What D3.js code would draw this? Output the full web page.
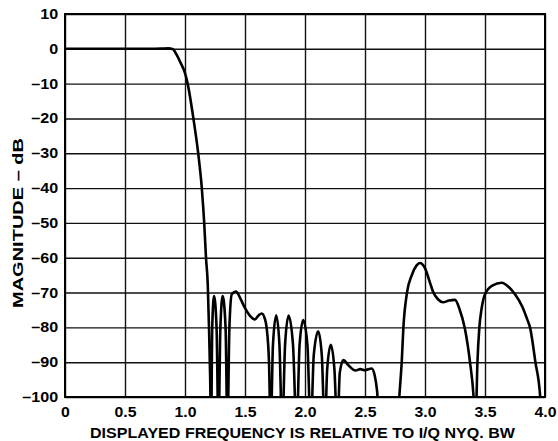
<!DOCTYPE html>
<html>
<head>
<meta charset="utf-8">
<script src="https://cdn.jsdelivr.net/npm/d3@7"></script>
<style>
  body { margin: 0; background: #fff; }
  text { font-family: "Liberation Sans", Arial, sans-serif; font-weight: bold; }
</style>
</head>
<body>
<script>
// tick values
const xTicks = [0, 0.5, 1.0, 1.5, 2.0, 2.5, 3.0, 3.5, 4.0]
const yTicks = [10, 0, -10, -20, -30, -40, -50, -60, -70, -80, -90, -100]

// filter response (nulls go below -100 and get clipped)
const freq = [
  0, 0.25, 0.5, 0.7, 0.8, 0.86, 0.9, 0.93, 0.96, 1.0, 1.022, 1.07, 1.11, 1.14, 1.16, 1.175, 1.19, 1.2, 1.21,
  1.217, 1.227, 1.242, 1.263, 1.279, 1.295, 1.314, 1.338, 1.354, 1.37, 1.39, 1.425, 1.46, 1.5, 1.54, 1.583,
  1.615, 1.64, 1.665, 1.68, 1.70, 1.714, 1.733, 1.76, 1.787, 1.81, 1.834, 1.863, 1.9, 1.93, 1.955, 1.985,
  2.02, 2.048, 2.073, 2.11, 2.14, 2.165, 2.185, 2.215, 2.245, 2.27, 2.29, 2.32, 2.36, 2.42, 2.46, 2.5,
  2.556, 2.58, 2.6, 2.625, 2.77, 2.786, 2.806, 2.82, 2.85, 2.89, 2.93, 2.958, 3.0, 3.04, 3.07, 3.11, 3.15,
  3.2, 3.25, 3.29, 3.33, 3.375, 3.405, 3.42, 3.437, 3.453, 3.47, 3.5, 3.56, 3.64, 3.7, 3.75, 3.81, 3.855,
  3.875, 3.92, 3.96, 3.975, 4.0
]
const magDb = [
  0, 0, 0, 0, 0.05, 0.15, -0.1, -1.7, -3.8, -7, -10, -20, -30, -40, -50, -60, -68, -80, -95,
  -110, -80, -71, -80, -110, -80, -71, -80, -110, -80, -70.5, -69.7, -71.6, -74.5, -76.6, -77.7,
  -76.5, -76, -77.5, -80, -90, -110, -85, -76.5, -85, -110, -85, -76.6, -85, -110, -85, -77.9,
  -85, -110, -88, -81.1, -88, -110, -92, -85, -92, -110, -93, -89.4, -90.8, -92.4, -92, -92.3,
  -91.8, -93.7, -98, -110, -110, -100, -90, -80, -70, -65, -62.2, -61.5, -63, -67, -70, -72, -72.8,
  -72.3, -72.1, -75, -80, -90, -100, -110, -90, -80, -75, -70.5, -68, -67.2, -68.5, -70.5, -74, -78,
  -80, -90, -100, -110, -110
]

const m = { left: 65, top: 14, right: 545, bottom: 397 }
const width = 558, height = 441
const w = m.right - m.left, h = m.bottom - m.top

const svg = d3.select('body').append('svg')
  .attr('width', width)
  .attr('height', height)

const x = d3.scaleLinear().domain([0, 4]).range([m.left, m.right])
const y = d3.scaleLinear().domain([-100, 10]).range([m.bottom, m.top])

const fmtY = d => d < 0 ? '\u2013' + Math.abs(d) : String(d)
const fmtX = d => d === 0 ? '0' : d.toFixed(1)

// y axis + horizontal grid
const gy = svg.append('g')
  .attr('transform', `translate(${m.left},0)`)
  .call(d3.axisLeft(y).tickValues(yTicks).tickSizeInner(-w).tickSizeOuter(0).tickPadding(6).tickFormat(fmtY))
gy.select('.domain').remove()
gy.selectAll('line').attr('stroke', '#111').attr('stroke-width', 1.4)
gy.selectAll('text')
  .attr('font-size', 14)
  .attr('fill', '#000')
  .attr('transform', 'scale(1.15,1)')

// x axis + vertical grid
const gx = svg.append('g')
  .attr('transform', `translate(0,${m.bottom})`)
  .call(d3.axisBottom(x).tickValues(xTicks).tickSizeInner(-h).tickSizeOuter(0).tickPadding(10).tickFormat(fmtX))
gx.select('.domain').remove()
gx.selectAll('line').attr('stroke', '#111').attr('stroke-width', 1.4)
gx.selectAll('text')
  .attr('font-size', 14)
  .attr('fill', '#000')
  .attr('transform', 'scale(1.13,1)')

// frame
svg.append('rect')
  .attr('x', m.left).attr('y', m.top)
  .attr('width', w).attr('height', h)
  .attr('fill', 'none')
  .attr('stroke', '#000')
  .attr('stroke-width', 2)

svg.append('clipPath').attr('id', 'plot')
  .append('rect')
  .attr('x', m.left).attr('y', m.top - 2)
  .attr('width', w).attr('height', h + 1)

const pts = freq.map((f, i) => [f, magDb[i]])

const line = d3.line()
  .x(d => x(d[0]))
  .y(d => y(d[1]))
  .curve(d3.curveMonotoneX)

svg.append('path')
  .datum(pts)
  .attr('clip-path', 'url(#plot)')
  .attr('fill', 'none')
  .attr('stroke', '#000')
  .attr('stroke-width', 2.6)
  .attr('stroke-linejoin', 'round')
  .attr('d', line)

// axis titles
svg.append('text')
  .attr('x', 302.5)
  .attr('y', 438)
  .attr('text-anchor', 'middle')
  .attr('font-size', 14)
  .attr('textLength', 425)
  .attr('lengthAdjust', 'spacingAndGlyphs')
  .text('DISPLAYED FREQUENCY IS RELATIVE TO I/Q NYQ. BW')

svg.append('text')
  .attr('transform', 'rotate(-90)')
  .attr('x', -223)
  .attr('y', 23)
  .attr('text-anchor', 'middle')
  .attr('font-size', 14.5)
  .attr('textLength', 170)
  .attr('lengthAdjust', 'spacingAndGlyphs')
  .text('MAGNITUDE \u2013 dB')
</script>
</body>
</html>
